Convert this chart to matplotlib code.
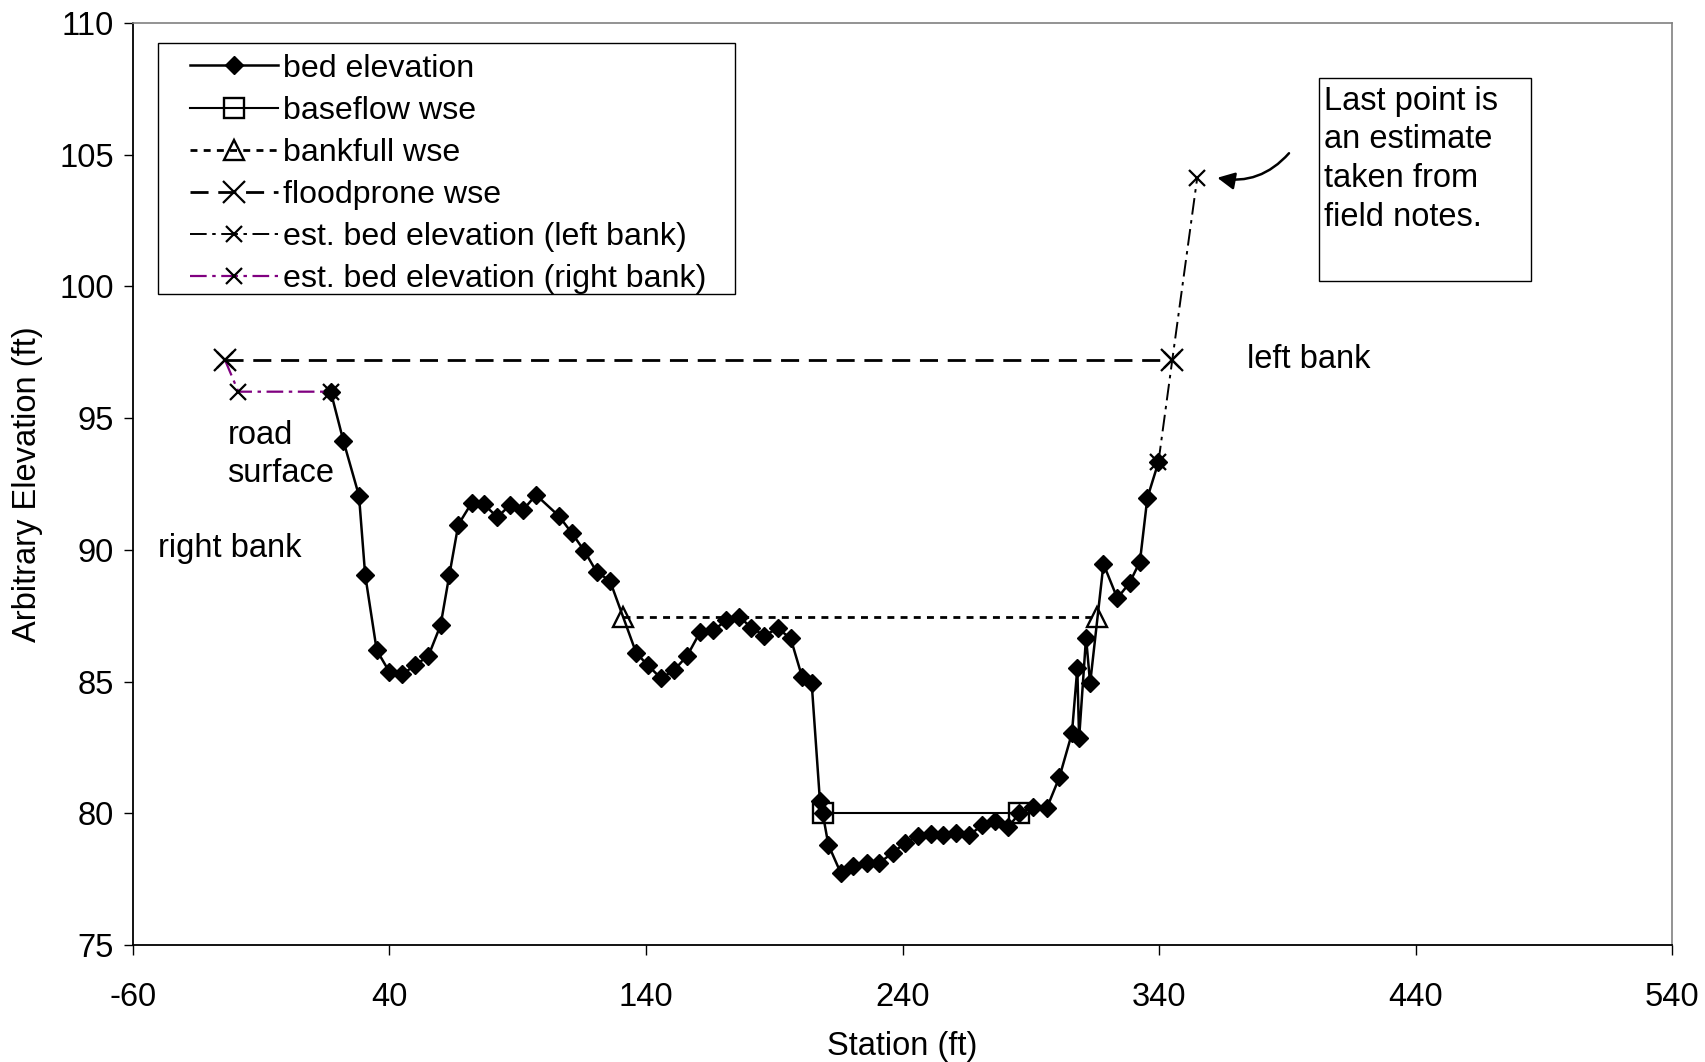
import matplotlib
matplotlib.use('Agg')
import matplotlib.pyplot as plt
from matplotlib.patches import Rectangle

plt.rcParams['font.family'] = ['Liberation Sans', 'DejaVu Sans']
plt.rcParams['lines.scale_dashes'] = False

# ---- data ----
bed_station = [17.2, 22.1, 28.2, 30.6, 35.1, 40.0, 45.1, 50.0, 55.2, 60.0,
               63.4, 66.9, 72.1, 76.9, 82.1, 87.0, 92.0, 97.2, 106.1, 111.1,
               116.0, 120.8, 126.0, 136.2, 140.8, 145.9, 151.0, 156.1, 161.2, 166.3,
               171.4, 176.4, 181.1, 186.2, 191.3, 196.4, 200.9, 204.6, 207.8, 208.9,
               211.1, 215.9, 220.8, 226.0, 231.0, 236.2, 241.1, 246.0, 251.0, 255.9,
               260.8, 266.0, 271.0, 276.0, 281.0, 285.5, 291.0, 296.2, 301.1, 306.0,
               308.1, 308.8, 311.5, 313.1, 318.3, 323.7, 328.5, 332.5, 335.4, 339.7]
bed_elev = [96.0, 94.14, 92.05, 89.05, 86.19, 85.37, 85.27, 85.62, 85.96, 87.14,
            89.04, 90.95, 91.78, 91.72, 91.24, 91.69, 91.5, 92.08, 91.28, 90.64,
            89.96, 89.16, 88.82, 86.09, 85.61, 85.12, 85.43, 85.98, 86.89, 86.94,
            87.33, 87.46, 87.04, 86.74, 87.02, 86.64, 85.16, 84.93, 80.48, 79.99,
            78.8, 77.74, 78.0, 78.12, 78.12, 78.5, 78.88, 79.14, 79.2, 79.18,
            79.26, 79.16, 79.55, 79.70, 79.46, 79.99, 80.25, 80.19, 81.36, 83.03,
            85.5, 82.84, 86.67, 84.93, 89.46, 88.16, 88.75, 89.55, 91.97, 93.32]

baseflow_station = [208.9, 285.5]
baseflow_elev = [80.0, 80.0]

bankfull_station = [130.9, 315.9]
bankfull_elev = [87.46, 87.46]

flood_station = [-24.0, 345.1]
flood_elev = [97.2, 97.2]

left_est_station = [339.7, 345.1, 354.8]
left_est_elev = [93.32, 97.2, 104.1]

right_est_station = [-24.0, -18.8, 17.2]
right_est_elev = [97.2, 96.0, 96.0]

x_ticks = [-60, 40, 140, 240, 340, 440, 540]
y_ticks = [75, 80, 85, 90, 95, 100, 105, 110]

labels = ["bed elevation", "baseflow wse", "bankfull wse", "floodprone wse",
          "est. bed elevation (left bank)", "est. bed elevation (right bank)"]

FS = 23.5

fig = plt.figure(figsize=(17.05, 10.62), dpi=100)
ax = fig.add_axes([0.0778, 0.1102, 0.9031, 0.8683])

l_flood, = ax.plot(flood_station, flood_elev, color='black', lw=2.0,
                   dashes=(13, 7), marker='x', ms=16, mew=1.6, zorder=3)
l_right, = ax.plot(right_est_station, right_est_elev, color='#800080', lw=1.6,
                   dashes=(12, 4, 2.5, 4), marker='x', ms=11, mew=1.6,
                   mec='black', zorder=3)
l_left, = ax.plot(left_est_station, left_est_elev, color='black', lw=1.4,
                  dashes=(12, 4, 2.5, 4), marker='x', ms=11, mew=1.6, zorder=3)
l_bank, = ax.plot(bankfull_station, bankfull_elev, color='black', lw=2.0,
                  dashes=(5, 4.5), marker='^', ms=15, mew=1.7,
                  mfc='none', mec='black', zorder=4)
l_base, = ax.plot(baseflow_station, baseflow_elev, color='black', lw=1.5,
                  marker='s', ms=14.5, mew=1.7, mfc='none', mec='black', zorder=4)
l_bed, = ax.plot(bed_station, bed_elev, color='black', lw=1.8,
                 marker='D', ms=9, mfc='black', mec='black', zorder=2)

ax.set_xlim(-60, 540)
ax.set_ylim(75, 110)
ax.set_xticks(x_ticks)
ax.set_yticks(y_ticks)
ax.set_xticklabels([str(v) for v in x_ticks], fontsize=FS)
ax.set_yticklabels([str(v) for v in y_ticks], fontsize=FS)
ax.tick_params(axis='y', direction='out', length=6.5, width=1, pad=7)
ax.tick_params(axis='x', direction='out', length=7.5, width=1, pad=19.5)

for side in ['left', 'bottom']:
    ax.spines[side].set_color('black')
    ax.spines[side].set_linewidth(1.3)
for side in ['top', 'right']:
    ax.spines[side].set_color('#808080')
    ax.spines[side].set_linewidth(1.2)

ax.set_xlabel("Station (ft)", fontsize=FS)
ax.set_ylabel("Arbitrary Elevation (ft)", fontsize=FS)
ax.xaxis.set_label_coords(0.5, -0.093)
ax.yaxis.set_label_coords(-0.058, 0.5)

# legend frame (drawn separately to match padding)
ax.add_patch(Rectangle((0.0162, 0.7064), 0.375, 0.2712, transform=ax.transAxes,
                       fill=True, facecolor='white', edgecolor='black',
                       lw=1.0, zorder=6))
leg = ax.legend([l_bed, l_base, l_bank, l_flood, l_left, l_right], labels,
                loc='upper left', bbox_to_anchor=(0.0374, 0.9665),
                fontsize=23.1, frameon=False,
                handlelength=2.75, handletextpad=0.15, labelspacing=0.375,
                borderpad=0.0, borderaxespad=0.0)
leg.set_zorder(7)

ax.text(-23.1, 93.62, "road\nsurface", fontsize=FS, ha='left', va='center',
        linespacing=1.3)
ax.text(-50.3, 90.05, "right bank", fontsize=FS, ha='left', va='center')
ax.text(374.3, 97.22, "left bank", fontsize=FS, ha='left', va='center')

ax.add_patch(Rectangle((402.3, 100.2), 82.6, 7.7, fill=False,
                       edgecolor='black', lw=1.0, zorder=5))
ax.text(404.4, 107.62, "Last point is\nan estimate\ntaken from\nfield notes.",
        fontsize=FS, ha='left', va='top', linespacing=1.33, zorder=6)

ax.annotate("", xy=(361.6, 104.14), xytext=(391.3, 105.13),
            arrowprops=dict(arrowstyle='-|>', color='black', lw=1.8,
                            mutation_scale=26,
                            connectionstyle='arc3,rad=-0.3'))

fig.savefig('out.png', dpi=100)
